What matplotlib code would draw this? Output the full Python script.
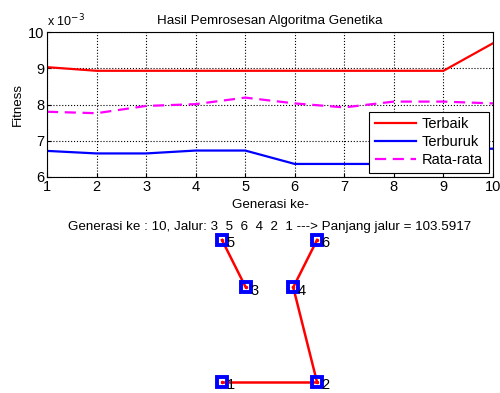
import matplotlib
matplotlib.use("Agg")
import matplotlib.pyplot as plt
import numpy as np

plt.rcParams["font.family"] = ["Liberation Sans", "DejaVu Sans"]

# fitness per generation (units of 1e-3)
generasi = np.arange(1, 11)
terbaik = [9.03, 8.93, 8.93, 8.93, 8.93, 8.93, 8.93, 8.93, 8.93, 9.69]
terburuk = [6.72, 6.65, 6.65, 6.73, 6.73, 6.36, 6.36, 6.36, 6.78, 6.78]
rata_rata = [7.80, 7.76, 7.96, 8.01, 8.19, 8.03, 7.92, 8.08, 8.08, 8.03]

# city coordinates and the drawn route segments
kota_x = [0, 20, 5, 15, 0, 20]
kota_y = [0, 0, 20, 20, 30, 30]
jalur = [3, 5, 6, 4, 2, 1]
segmen = [(3, 5), (6, 4), (4, 2), (2, 1)]
panjang = 103.5917

fig = plt.figure(figsize=(5.0, 3.93), dpi=100)

ax = fig.add_axes([47 / 500, (393 - 177) / 393, 446 / 500, 145 / 393])
ax.plot(generasi, terbaik, color="#ff0000", lw=1.6, label="Terbaik")
ax.plot(generasi, terburuk, color="#0000ff", lw=1.6, label="Terburuk")
ax.plot(generasi, rata_rata, color="#ff00ff", lw=1.6, ls=(0, (5, 3)),
        label="Rata-rata")
ax.set_xlim(1, 10)
ax.set_ylim(6, 10)
ax.set_xticks(generasi)
ax.set_yticks([6, 7, 8, 9, 10])
ax.tick_params(direction="in", labelsize=10.5, length=3, pad=2)
ax.grid(True, color="black", ls=":", lw=0.8)
ax.set_title("Hasil Pemrosesan Algoritma Genetika", fontsize=9.6, pad=6)
ax.set_xlabel("Generasi ke-", fontsize=9.6, labelpad=4)
ax.set_ylabel("Fitness", fontsize=9.6, labelpad=3)
ax.text(0.0, 1.02, r"x 10$^{-3}$", transform=ax.transAxes, fontsize=9,
        ha="left", va="bottom")
leg = ax.legend(loc="lower right", fontsize=10.5, frameon=True, fancybox=False,
                edgecolor="black", framealpha=1, borderaxespad=0.3,
                handlelength=2.8, handletextpad=0.4, labelspacing=0.25,
                borderpad=0.4)
leg.get_frame().set_linewidth(0.8)

bx = fig.add_axes([222 / 500, (393 - 382) / 393, 95 / 500, 142 / 393])
for a, b in segmen:
    bx.plot([kota_x[a - 1], kota_x[b - 1]], [kota_y[a - 1], kota_y[b - 1]],
            color="#ff0000", lw=1.8, clip_on=False)
bx.plot(kota_x, kota_y, "s", ms=7, mfc="none", mec="#0000ff", mew=2.8,
        clip_on=False)
bx.plot(kota_x, kota_y, ".", ms=3, color="#ff0000", clip_on=False)
for i, (x, y) in enumerate(zip(kota_x, kota_y)):
    bx.text(x + 1.0, y - 0.7, str(i + 1), fontsize=10.5, ha="left",
            va="center")
bx.set_xlim(0, 20)
bx.set_ylim(0, 30)
bx.axis("off")
judul = ("Generasi ke : 10, Jalur: " + "  ".join(str(k) for k in jalur)
         + f" ---> Panjang jalur = {panjang:.4f}")
bx.set_title(judul, fontsize=9.6, pad=7)

fig.savefig("out.png", dpi=100)
